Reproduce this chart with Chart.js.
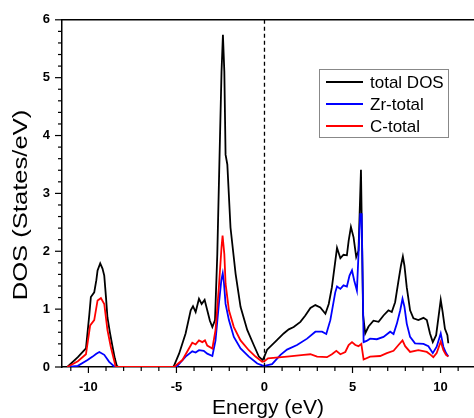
<!DOCTYPE html>
<html lang="en">
<head>
    <meta charset="UTF-8">
    <title>DOS</title>
    <style>
        body { margin: 0; background: #fff; }
        #wrap { width: 474px; height: 418px; }
    </style>
</head>
<body>
<div id="wrap"><canvas id="dosChart"></canvas></div>

<script src="https://cdn.jsdelivr.net/npm/chart.js@4.4.0/dist/chart.umd.min.js"></script>
<script>
// total DOS
let totalE = [-11.2, -10.6, -10.14, -9.95, -9.86, -9.67, -9.55, -9.48, -9.33, -9.2, -9.1, -9.0, -8.92, -8.78, -8.63, -8.5, -8.39, -8.3,
    -5.2, -5.14, -4.85, -4.48, -4.19, -4.06, -3.91, -3.72, -3.57, -3.4, -3.25, -3.1, -2.96, -2.81, -2.68, -2.55, -2.44, -2.36, -2.28, -2.21, -2.11, -1.93, -1.64, -1.36, -0.98, -0.61, -0.32, -0.1,
    0.02, 0.15, 0.62, 1.09, 1.38, 1.66, 2.04, 2.32, 2.61, 2.89, 3.17, 3.46, 3.65, 3.83, 4.12, 4.31, 4.49, 4.68, 4.78, 4.91, 5.06, 5.21, 5.34, 5.48, 5.55, 5.6,
    5.72, 5.91, 6.19, 6.48, 6.76, 7.04, 7.23, 7.42, 7.61, 7.75, 7.86, 7.95, 8.08, 8.27, 8.46, 8.74, 9.03, 9.22, 9.4, 9.56, 9.75, 9.92, 10.01, 10.12, 10.25, 10.39, 10.44]
let totalDOS = [0.0, 0.17, 0.32, 0.9, 1.21, 1.29, 1.5, 1.67, 1.79, 1.7, 1.58, 1.2, 0.86, 0.6, 0.35, 0.15, 0.02, 0.0,
    0.0, 0.02, 0.23, 0.58, 0.98, 1.05, 0.95, 1.18, 1.09, 1.16, 0.98, 0.8, 0.69, 0.81, 1.95, 3.67, 5.1, 5.74, 5.1, 3.67, 3.5, 2.41, 1.61, 1.04, 0.64, 0.38, 0.18, 0.12,
    0.2, 0.3, 0.44, 0.58, 0.65, 0.69, 0.78, 0.89, 1.02, 1.07, 1.03, 0.92, 1.09, 1.38, 2.06, 1.88, 1.94, 1.93, 2.18, 2.42, 2.24, 1.9, 2.01, 3.41, 2.0, 0.9,
    0.58, 0.7, 0.8, 0.78, 0.89, 0.98, 0.95, 1.12, 1.49, 1.75, 1.91, 1.75, 1.38, 0.98, 0.84, 0.81, 0.85, 0.81, 0.58, 0.43, 0.55, 0.95, 1.16, 0.95, 0.66, 0.55, 0.41]

// Zr-total
let zrE = [-11.2, -10.6, -10.05, -9.76, -9.55, -9.38, -9.1, -8.82, -8.5,
    -5.2, -5.0, -4.48, -4.1, -3.91, -3.72, -3.45, -3.25, -2.96, -2.78, -2.59, -2.45, -2.37, -2.3, -2.21, -2.02, -1.74, -1.36, -0.89, -0.41, -0.13,
    0.0, 0.43, 0.91, 1.28, 1.85, 2.42, 2.89, 3.27, 3.51, 3.74, 4.02, 4.12, 4.31, 4.49, 4.68, 4.83, 4.97, 5.1, 5.25, 5.44, 5.52, 5.63,
    5.8, 6.0, 6.38, 6.76, 7.14, 7.33, 7.52, 7.71, 7.84, 7.95, 8.08, 8.27, 8.55, 9.03, 9.31, 9.56, 9.78, 10.01, 10.16, 10.31, 10.44]
let zrDOS = [0.0, 0.02, 0.12, 0.18, 0.23, 0.26, 0.21, 0.09, 0.0,
    0.0, 0.0, 0.18, 0.27, 0.25, 0.29, 0.28, 0.23, 0.19, 0.46, 1.09, 1.5, 1.62, 1.45, 1.09, 0.81, 0.52, 0.32, 0.18, 0.06, 0.03,
    0.02, 0.05, 0.21, 0.3, 0.38, 0.49, 0.61, 0.61, 0.57, 0.81, 1.29, 1.39, 1.35, 1.41, 1.39, 1.58, 1.67, 1.49, 1.32, 2.64, 2.64, 0.43,
    0.45, 0.49, 0.48, 0.52, 0.61, 0.57, 0.75, 0.98, 1.18, 1.04, 0.75, 0.52, 0.41, 0.4, 0.36, 0.24, 0.35, 0.58, 0.35, 0.24, 0.18]

// C-total
let cE = [-11.2, -10.6, -10.14, -9.9, -9.67, -9.48, -9.29, -9.1, -8.92, -8.73, -8.45,
    -5.14, -4.66, -4.29, -4.1, -3.91, -3.72, -3.53, -3.38, -3.25, -2.96, -2.78, -2.59, -2.44, -2.38, -2.28, -2.21, -2.02, -1.74, -1.36, -0.89, -0.51, -0.13,
    0.0, 0.2, 1.28, 2.23, 2.61, 2.99, 3.55, 3.83, 4.08, 4.31, 4.59, 4.78, 4.97, 5.16, 5.34, 5.5, 5.63,
    6.0, 6.57, 6.95, 7.33, 7.61, 7.84, 7.99, 8.27, 8.74, 9.22, 9.44, 9.59, 9.78, 10.01, 10.16, 10.31, 10.44]
let cDOS = [0.0, 0.1, 0.22, 0.72, 0.81, 1.15, 1.19, 1.09, 0.64, 0.35, 0.0,
    0.0, 0.12, 0.32, 0.42, 0.39, 0.46, 0.43, 0.46, 0.37, 0.32, 0.64, 1.38, 2.07, 2.27, 1.95, 1.44, 0.98, 0.69, 0.46, 0.29, 0.18, 0.09,
    0.1, 0.15, 0.18, 0.21, 0.22, 0.18, 0.17, 0.22, 0.28, 0.22, 0.26, 0.38, 0.43, 0.38, 0.36, 0.4, 0.13,
    0.18, 0.19, 0.24, 0.28, 0.38, 0.46, 0.36, 0.26, 0.29, 0.26, 0.21, 0.17, 0.24, 0.44, 0.29, 0.21, 0.18]

let xTicks = [-10, -5, 0, 5, 10]
let yTicks = [0, 1, 2, 3, 4, 5, 6]

const FONT = '"Liberation Sans", Arial, sans-serif'

function toPoints(xs, ys) {
    return xs.map(function(x, i) { return {x: x, y: ys[i]} })
}

// extra drawing: minor ticks, top frame line, zero line, y title, legend
const decor = {
    id: 'decor',
    afterDraw(chart) {
        const ctx = chart.ctx
        const area = chart.chartArea
        const xs = chart.scales.x
        const ys = chart.scales.y
        ctx.save()
        ctx.strokeStyle = '#000'
        ctx.lineWidth = 1.5

        // top frame line
        ctx.beginPath()
        ctx.moveTo(area.left, area.top)
        ctx.lineTo(area.right, area.top)
        ctx.stroke()

        // x ticks
        ctx.lineWidth = 1.2
        for (let v = -11; v <= 11; v++) {
            const px = xs.getPixelForValue(v)
            const len = v % 5 === 0 ? 6 : 4
            ctx.beginPath()
            ctx.moveTo(px, area.bottom)
            ctx.lineTo(px, area.bottom + len)
            ctx.stroke()
        }
        // y ticks
        for (let k = 0; k <= 30; k++) {
            const py = ys.getPixelForValue(k * 0.2)
            const len = k % 5 === 0 ? 7 : 4
            ctx.beginPath()
            ctx.moveTo(area.left, py)
            ctx.lineTo(area.left - len, py)
            ctx.stroke()
        }

        // dashed Fermi line
        const x0 = xs.getPixelForValue(0)
        ctx.setLineDash([4, 3])
        ctx.lineWidth = 1.3
        ctx.beginPath()
        ctx.moveTo(x0, area.top)
        ctx.lineTo(x0, area.bottom)
        ctx.stroke()
        ctx.setLineDash([])

        // y title (stretched along its length like the original)
        ctx.fillStyle = '#000'
        ctx.font = '20px ' + FONT
        ctx.translate(27, 205)
        ctx.rotate(-Math.PI / 2)
        ctx.scale(1.28, 1)
        ctx.textAlign = 'center'
        ctx.textBaseline = 'alphabetic'
        ctx.fillText('DOS (States/eV)', 0, 0)
        ctx.restore()

        // legend
        ctx.save()
        ctx.strokeStyle = '#888'
        ctx.lineWidth = 1
        ctx.strokeRect(319.5, 69.5, 129, 68)
        ctx.font = '17px ' + FONT
        ctx.textBaseline = 'middle'
        ctx.fillStyle = '#000'
        const rows = [82, 104, 126]
        chart.data.datasets.forEach(function(ds, i) {
            ctx.strokeStyle = ds.borderColor
            ctx.lineWidth = 2
            ctx.beginPath()
            ctx.moveTo(326, rows[i])
            ctx.lineTo(363, rows[i])
            ctx.stroke()
            ctx.fillText(ds.label, 370, rows[i] + 1)
        })
        ctx.restore()
    }
}

let line = document.getElementById('dosChart')
let myChart = new Chart(line, {
    type: 'scatter',
    data: {
        datasets: [{
            label: 'total DOS',
            data: toPoints(totalE, totalDOS),
            borderColor: '#000000',
            order: 3
        }, {
            label: 'Zr-total',
            data: toPoints(zrE, zrDOS),
            borderColor: '#0000ff',
            order: 2
        }, {
            label: 'C-total',
            data: toPoints(cE, cDOS),
            borderColor: '#ff0000',
            order: 1
        }]
    },
    options: {
        responsive: true,
        maintainAspectRatio: false,
        animation: false,
        showLine: true,
        layout: { padding: { top: 18, right: 0, left: 0, bottom: 0 } },
        elements: {
            point: { radius: 0 },
            line: { borderWidth: 1.8, tension: 0, fill: false }
        },
        plugins: {
            legend: { display: false },
            tooltip: { enabled: false }
        },
        scales: {
            x: {
                type: 'linear',
                min: -11.5,
                max: 11.9,
                afterBuildTicks: function(s) { s.ticks = xTicks.map(function(v) { return {value: v} }) },
                afterFit: function(s) { s.height = 51 },
                grid: { display: false, drawTicks: false },
                border: { display: true, color: '#000', width: 1.5 },
                ticks: {
                    padding: 13,
                    color: '#000',
                    font: { family: FONT, size: 13, weight: 'bold' },
                    maxRotation: 0
                },
                title: {
                    display: true,
                    text: 'Energy (eV)',
                    color: '#000',
                    font: { family: FONT, size: 21 },
                    padding: { top: 0, bottom: -3 }
                }
            },
            y: {
                type: 'linear',
                min: 0,
                max: 6,
                afterBuildTicks: function(s) { s.ticks = yTicks.map(function(v) { return {value: v} }) },
                afterFit: function(s) { s.width = 62 },
                grid: { display: false, drawTicks: false },
                border: { display: true, color: '#000', width: 1.5 },
                ticks: {
                    padding: 12,
                    color: '#000',
                    font: { family: FONT, size: 13, weight: 'bold' }
                }
            }
        }
    },
    plugins: [decor]
})
</script>
</body>
</html>
